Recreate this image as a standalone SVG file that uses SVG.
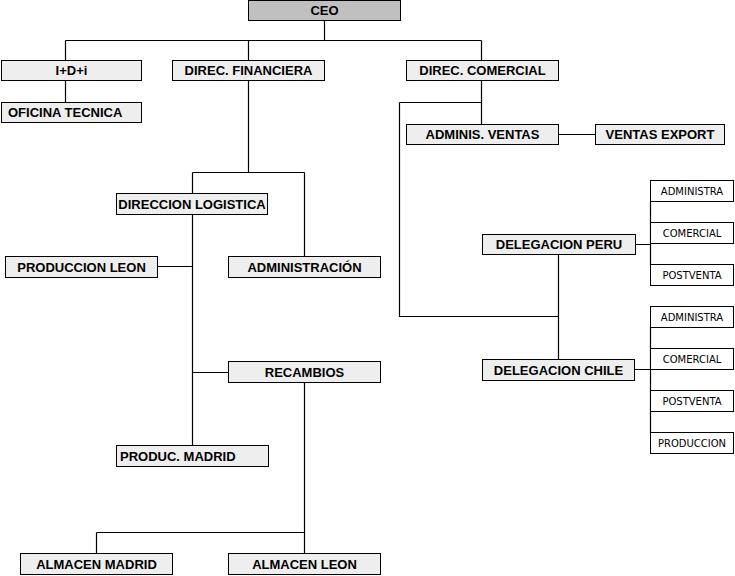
<svg xmlns="http://www.w3.org/2000/svg" width="735" height="576" viewBox="0 0 735 576">
<style>
.box{fill:#eeeeee;stroke:#000;stroke-width:1}
.ceo{fill:#c0c0c0;stroke:#000;stroke-width:1}
.sm{fill:#fff;stroke:#000;stroke-width:1}
.t{font-family:"Liberation Sans",Arial,sans-serif;font-weight:bold;font-size:13px;text-anchor:middle;fill:#000}
.tl{font-family:"Liberation Sans",Arial,sans-serif;font-weight:bold;font-size:13px;text-anchor:start;fill:#000}
.ts{font-family:"DejaVu Sans",sans-serif;font-size:10px;text-anchor:middle;fill:#000}
.c{fill:none;stroke:#000;stroke-width:1.2}
</style>
<rect width="735" height="576" fill="#fff"/>
<g id="connectors">
<path class="c" d="M324.5 20.5V40.5M65.5 40.5H481.5M65.5 40.5V60.5M248.5 40.5V60.5M481.5 40.5V60.5"/>
<path class="c" d="M65.5 80.5V102.5"/>
<path class="c" d="M248.5 80.5V172.5M192.5 172.5H304.5M192.5 172.5V193.5M304.5 172.5V256.5"/>
<path class="c" d="M192.5 214.5V445.5M157.5 266.5H192.5M192.5 372.5H228.5"/>
<path class="c" d="M304.5 382.5V553.5M96.5 532.5H304.5M96.5 532.5V553.5"/>
<path class="c" d="M481.5 80.5V124.5M399.5 102.5H481.5M399.5 102.5V316.5H558.5M558.5 254.5V359.5"/>
<path class="c" d="M558.5 134.5H595.5"/>
<path class="c" d="M635.5 244.5H650.5M650.5 201.5V264.5"/>
<path class="c" d="M634.5 369.5H650.5M650.5 327.5V432.5"/>
</g>
<g id="ceo"><rect class="ceo" x="248.5" y="0.5" width="152" height="20"/><text class="t" x="324.5" y="15">CEO</text></g>
<g id="idi"><rect class="box" x="1.5" y="60.5" width="140" height="20"/><text class="t" x="71.5" y="75">I+D+i</text></g>
<g id="direc-financiera"><rect class="box" x="172.5" y="60.5" width="152" height="20"/><text class="t" x="248.5" y="75">DIREC. FINANCIERA</text></g>
<g id="direc-comercial"><rect class="box" x="406.5" y="60.5" width="152" height="20"/><text class="t" x="482.5" y="75">DIREC. COMERCIAL</text></g>
<g id="oficina-tecnica"><rect class="box" x="1.5" y="102.5" width="140" height="20"/><text class="tl" x="8" y="117">OFICINA TECNICA</text></g>
<g id="adminis-ventas"><rect class="box" x="406.5" y="124.5" width="152" height="20"/><text class="t" x="482.5" y="139">ADMINIS. VENTAS</text></g>
<g id="ventas-export"><rect class="box" x="595.5" y="124.5" width="129" height="20"/><text class="t" x="660" y="139">VENTAS EXPORT</text></g>
<g id="direccion-logistica"><rect class="box" x="116.5" y="193.5" width="151" height="21"/><text class="t" x="192" y="209">DIRECCION LOGISTICA</text></g>
<g id="produccion-leon"><rect class="box" x="5.5" y="256.5" width="152" height="21"/><text class="t" x="81.5" y="272">PRODUCCION LEON</text></g>
<g id="administracion"><rect class="box" x="228.5" y="256.5" width="152" height="21"/><text class="t" x="304.5" y="272">ADMINISTRACIÓN</text></g>
<g id="delegacion-peru"><rect class="box" x="482.5" y="234.5" width="153" height="20"/><text class="t" x="559" y="249">DELEGACION PERU</text></g>
<g id="recambios"><rect class="box" x="228.5" y="361.5" width="152" height="21"/><text class="t" x="304.5" y="377">RECAMBIOS</text></g>
<g id="delegacion-chile"><rect class="box" x="482.5" y="359.5" width="152" height="21"/><text class="t" x="558.5" y="375">DELEGACION CHILE</text></g>
<g id="produc-madrid"><rect class="box" x="116.5" y="445.5" width="152" height="21"/><text class="tl" x="120" y="461">PRODUC. MADRID</text></g>
<g id="almacen-madrid"><rect class="box" x="20.5" y="553.5" width="152" height="21"/><text class="t" x="96.5" y="569">ALMACEN MADRID</text></g>
<g id="almacen-leon"><rect class="box" x="228.5" y="553.5" width="152" height="21"/><text class="t" x="304.5" y="569">ALMACEN LEON</text></g>
<g id="peru-administra"><rect class="sm" x="650.5" y="180.5" width="83" height="21"/><text class="ts" x="692" y="195">ADMINISTRA</text></g>
<g id="peru-comercial"><rect class="sm" x="650.5" y="222.5" width="83" height="21"/><text class="ts" x="692" y="237">COMERCIAL</text></g>
<g id="peru-postventa"><rect class="sm" x="650.5" y="264.5" width="83" height="21"/><text class="ts" x="692" y="279">POSTVENTA</text></g>
<g id="chile-administra"><rect class="sm" x="650.5" y="306.5" width="83" height="21"/><text class="ts" x="692" y="321">ADMINISTRA</text></g>
<g id="chile-comercial"><rect class="sm" x="650.5" y="348.5" width="83" height="21"/><text class="ts" x="692" y="363">COMERCIAL</text></g>
<g id="chile-postventa"><rect class="sm" x="650.5" y="390.5" width="83" height="21"/><text class="ts" x="692" y="405">POSTVENTA</text></g>
<g id="chile-produccion"><rect class="sm" x="650.5" y="432.5" width="83" height="21"/><text class="ts" x="692" y="447">PRODUCCION</text></g>
</svg>
